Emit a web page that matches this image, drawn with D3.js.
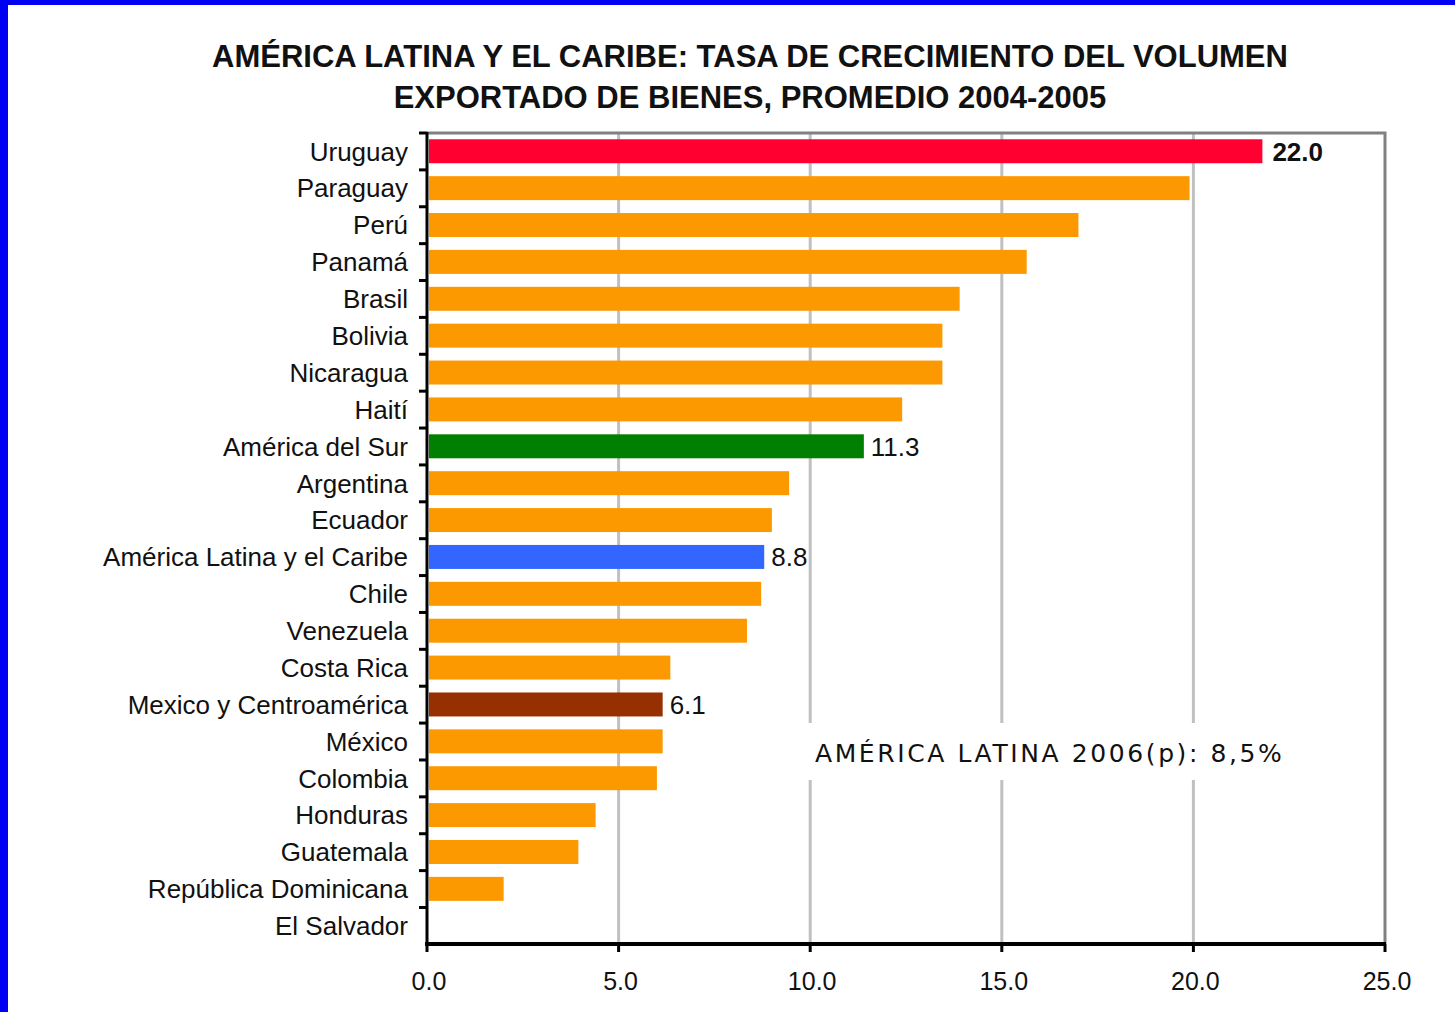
<!DOCTYPE html>
<html>
<head>
<meta charset="utf-8">
<script src="https://cdn.jsdelivr.net/npm/d3@7"></script>
<style>
  body { margin: 0; background: #fff; }
  svg { display: block; }
</style>
</head>
<body>
<svg id="canvas" width="1455" height="1012"></svg>
<script>
let countries = ['Uruguay', 'Paraguay', 'Perú', 'Panamá', 'Brasil', 'Bolivia', 'Nicaragua', 'Haití',
  'América del Sur', 'Argentina', 'Ecuador', 'América Latina y el Caribe', 'Chile', 'Venezuela',
  'Costa Rica', 'Mexico y Centroamérica', 'México', 'Colombia', 'Honduras', 'Guatemala',
  'República Dominicana', 'El Salvador']
let growth = [21.8, 19.9, 17.0, 15.65, 13.9, 13.45, 13.45, 12.4, 11.4, 9.45, 9.0, 8.8, 8.72, 8.35,
  6.35, 6.15, 6.15, 6.0, 4.4, 3.95, 2.0, 0]
let kinds = ['top', 'c', 'c', 'c', 'c', 'c', 'c', 'c', 'sur', 'c', 'c', 'alc', 'c', 'c', 'c', 'mca',
  'c', 'c', 'c', 'c', 'c', 'c']
let shownLabels = ['22.0', '', '', '', '', '', '', '', '11.3', '', '', '8.8', '', '', '', '6.1',
  '', '', '', '', '', '']
let xTicks = [0, 5, 10, 15, 20, 25]
let titleLines = ['AMÉRICA LATINA Y EL CARIBE: TASA DE CRECIMIENTO DEL VOLUMEN',
  'EXPORTADO DE BIENES, PROMEDIO 2004-2005']
let note = 'AMÉRICA LATINA 2006(p):  8,5%'

let colors = { top: '#ff0030', c: '#fd9900', sur: '#007f00', alc: '#3366ff', mca: '#963000' }

let data = countries.map((name, i) => ({ name: name, value: growth[i], kind: kinds[i], label: shownLabels[i] }))

let canvas = d3.select('#canvas')
let plotLeft = 427, plotRight = 1385, plotTop = 133, plotBottom = 944

// frame in blue like the slide
canvas.append('rect').attr('x', 0).attr('y', 0).attr('width', 8).attr('height', 1012).attr('fill', '#0000f2')
canvas.append('rect').attr('x', 0).attr('y', 0).attr('width', 1455).attr('height', 5).attr('fill', '#0000f2')

let xScale = d3.scaleLinear().domain([0, 25]).range([plotLeft, plotRight])
let yScale = d3.scaleBand().domain(countries).range([plotTop, plotBottom]).paddingInner(0.35).paddingOuter(0.17)

// title
canvas.selectAll('.title')
  .data(titleLines)
  .enter()
  .append('text')
  .attr('class', 'title')
  .attr('x', 750)
  .attr('y', (d, i) => 67 + i * 41)
  .attr('text-anchor', 'middle')
  .attr('font-family', 'Liberation Sans, Arial, sans-serif')
  .attr('font-weight', 'bold')
  .attr('font-size', 31)
  .attr('fill', '#111')
  .text(d => d)

// gridlines
canvas.selectAll('.grid')
  .data(xTicks.slice(1, -1))
  .enter()
  .append('line')
  .attr('class', 'grid')
  .attr('x1', d => xScale(d)).attr('x2', d => xScale(d))
  .attr('y1', plotTop).attr('y2', plotBottom)
  .attr('stroke', '#c0c0c0').attr('stroke-width', 3)

// gray plot frame (top and right)
canvas.append('path')
  .attr('d', `M${plotLeft},${plotTop}H${plotRight}V${plotBottom}`)
  .attr('fill', 'none').attr('stroke', '#808080').attr('stroke-width', 3)

// note with white box breaking the grid
canvas.append('rect').attr('x', 800).attr('y', 723).attr('width', 500).attr('height', 57).attr('fill', '#fff')
canvas.append('text')
  .attr('x', 815).attr('y', 762)
  .attr('font-family', 'DejaVu Sans, Verdana, sans-serif')
  .attr('font-size', 25)
  .attr('letter-spacing', 2.6)
  .attr('fill', '#111')
  .text(note)

// bars
canvas.selectAll('.bar')
  .data(data)
  .enter()
  .append('rect')
  .attr('class', 'bar')
  .attr('x', xScale(0) + 2)
  .attr('y', d => yScale(d.name))
  .attr('width', d => Math.max(0, xScale(d.value) - xScale(0) - 2))
  .attr('height', yScale.bandwidth())
  .attr('fill', d => colors[d.kind])

// value labels
canvas.selectAll('.val')
  .data(data.filter(d => d.label !== ''))
  .enter()
  .append('text')
  .attr('class', 'val')
  .attr('x', d => xScale(d.value) + (d.kind === 'top' ? 10 : 7))
  .attr('y', d => yScale(d.name) + yScale.bandwidth() / 2)
  .attr('dy', '0.36em')
  .attr('font-family', 'Liberation Sans, Arial, sans-serif')
  .attr('font-weight', d => d.kind === 'top' ? 'bold' : 'normal')
  .attr('font-size', 26)
  .attr('fill', '#111')
  .text(d => d.label)

// category axis
let yAxis = canvas.append('g')
yAxis.selectAll('.ytick')
  .data(countries)
  .enter()
  .append('line')
  .attr('x1', plotLeft - 8).attr('x2', plotLeft)
  .attr('y1', d => plotTop + countries.indexOf(d) * yScale.step())
  .attr('y2', d => plotTop + countries.indexOf(d) * yScale.step())
  .attr('stroke', '#000').attr('stroke-width', 3)
yAxis.selectAll('.ylab')
  .data(countries)
  .enter()
  .append('text')
  .attr('x', 408)
  .attr('y', d => yScale(d) + yScale.bandwidth() / 2)
  .attr('dy', '0.36em')
  .attr('text-anchor', 'end')
  .attr('font-family', 'Liberation Sans, Arial, sans-serif')
  .attr('font-size', 26)
  .attr('fill', '#111')
  .text(d => d)
yAxis.append('line')
  .attr('x1', plotLeft).attr('x2', plotLeft).attr('y1', plotTop - 1).attr('y2', plotBottom)
  .attr('stroke', '#000').attr('stroke-width', 3)

// value axis
let xAxis = canvas.append('g')
xAxis.selectAll('.xtick')
  .data(xTicks)
  .enter()
  .append('line')
  .attr('x1', d => xScale(d)).attr('x2', d => xScale(d))
  .attr('y1', plotBottom).attr('y2', plotBottom + 8)
  .attr('stroke', '#000').attr('stroke-width', 3)
xAxis.selectAll('.xlab')
  .data(xTicks)
  .enter()
  .append('text')
  .attr('x', d => xScale(d) + 2)
  .attr('y', 990)
  .attr('text-anchor', 'middle')
  .attr('font-family', 'Liberation Sans, Arial, sans-serif')
  .attr('font-size', 25)
  .attr('fill', '#111')
  .text(d => d3.format('.1f')(d))
xAxis.append('line')
  .attr('x1', plotLeft - 2).attr('x2', plotRight + 1).attr('y1', plotBottom).attr('y2', plotBottom)
  .attr('stroke', '#000').attr('stroke-width', 4)
</script>
</body>
</html>
